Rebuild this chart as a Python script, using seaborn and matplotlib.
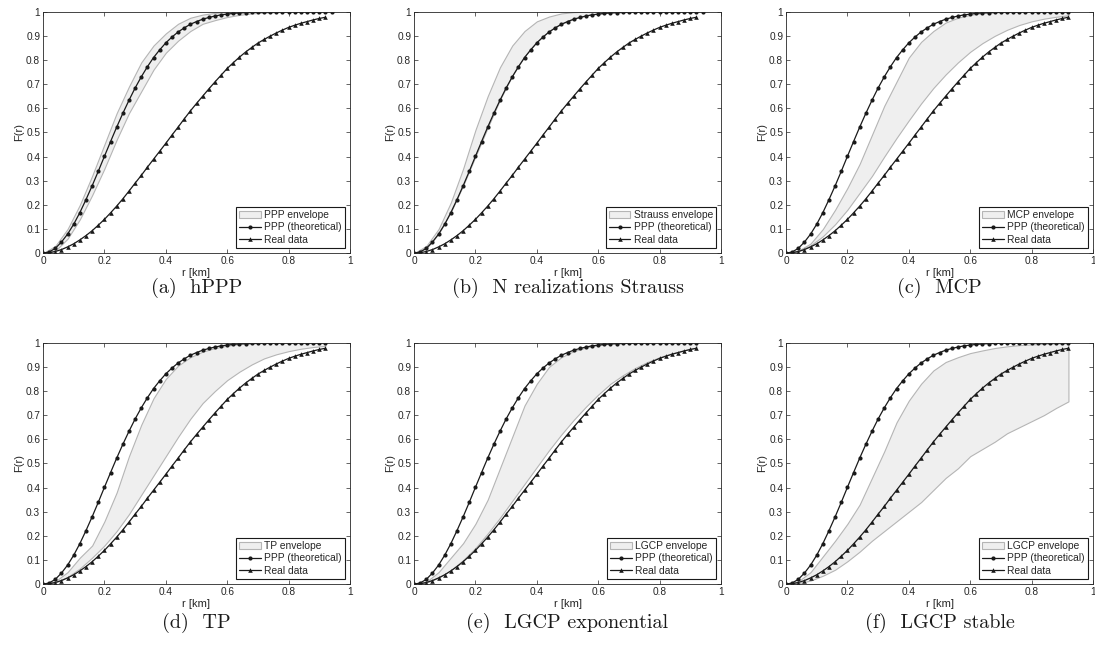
import numpy as np
import seaborn as sns
import matplotlib.pyplot as plt
from matplotlib.ticker import FuncFormatter

# distance grid (km) for the F-function curves
r_km = [0.00, 0.02, 0.04, 0.06, 0.08, 0.10, 0.12, 0.14, 0.16, 0.18,
        0.20, 0.22, 0.24, 0.26, 0.28, 0.30, 0.32, 0.34, 0.36, 0.38,
        0.40, 0.42, 0.44, 0.46, 0.48, 0.50, 0.52, 0.54, 0.56, 0.58,
        0.60, 0.62, 0.64, 0.66, 0.68, 0.70, 0.72, 0.74, 0.76, 0.78,
        0.80, 0.82, 0.84, 0.86, 0.88, 0.90, 0.92, 0.94]

ppp_theory = [0.000, 0.005, 0.020, 0.046, 0.079, 0.120, 0.168, 0.222, 0.279, 0.339,
              0.401, 0.462, 0.522, 0.579, 0.633, 0.684, 0.730, 0.772, 0.810, 0.842,
              0.871, 0.895, 0.916, 0.933, 0.948, 0.959, 0.969, 0.976, 0.982, 0.987,
              0.990, 0.993, 0.995, 0.996, 0.997, 0.998, 0.999, 0.999, 0.999, 1.000,
              1.000, 1.000, 1.000, 1.000, 1.000, 1.000, 1.000, 1.000]

real_data = [0.000, 0.002, 0.007, 0.015, 0.026, 0.039, 0.055, 0.073, 0.093, 0.116,
             0.140, 0.167, 0.195, 0.225, 0.257, 0.290, 0.322, 0.356, 0.389, 0.422,
             0.455, 0.489, 0.522, 0.556, 0.589, 0.620, 0.650, 0.680, 0.709, 0.737,
             0.765, 0.789, 0.812, 0.833, 0.852, 0.870, 0.885, 0.899, 0.912, 0.924,
             0.935, 0.944, 0.952, 0.959, 0.966, 0.972, 0.977]

# envelope grid (km)
env_r = [0.00, 0.04, 0.08, 0.12, 0.16, 0.20, 0.24, 0.28, 0.32, 0.36, 0.40, 0.44,
         0.48, 0.52, 0.56, 0.60, 0.64, 0.68, 0.72, 0.76, 0.80, 0.84, 0.88, 0.92]

hppp_hi = [0, 0.03, 0.10, 0.20, 0.32, 0.45, 0.58, 0.69, 0.79, 0.86, 0.91, 0.95,
           0.975, 0.988, 0.995, 0.999, 1, 1, 1, 1, 1, 1, 1, 1]
hppp_lo = [0, 0.01, 0.06, 0.14, 0.24, 0.35, 0.47, 0.58, 0.67, 0.76, 0.83, 0.88,
           0.92, 0.95, 0.965, 0.978, 0.987, 0.993, 0.996, 0.998, 0.999, 1, 1, 1]

strauss_hi = [0, 0.03, 0.10, 0.21, 0.35, 0.51, 0.65, 0.77, 0.86, 0.92, 0.96, 0.98,
              0.993, 0.998, 1, 1, 1, 1, 1, 1, 1, 1, 1, 1]
strauss_lo = [0, 0.02, 0.08, 0.17, 0.28, 0.40, 0.52, 0.635, 0.735, 0.815, 0.875, 0.92,
              0.95, 0.97, 0.985, 0.992, 0.996, 0.998, 0.999, 1, 1, 1, 1, 1]

mcp_hi = [0, 0.01, 0.04, 0.10, 0.18, 0.27, 0.37, 0.49, 0.61, 0.71, 0.81, 0.875,
          0.92, 0.955, 0.975, 0.987, 0.994, 0.997, 0.999, 1, 1, 1, 1, 1]
mcp_lo = [0, 0.008, 0.032, 0.07, 0.12, 0.18, 0.25, 0.32, 0.40, 0.477, 0.55, 0.62,
          0.684, 0.74, 0.79, 0.834, 0.87, 0.90, 0.925, 0.945, 0.96, 0.971, 0.979, 0.985]

tp_hi = [0, 0.012, 0.05, 0.11, 0.16, 0.26, 0.38, 0.53, 0.66, 0.77, 0.85, 0.905,
         0.94, 0.963, 0.978, 0.988, 0.994, 0.997, 0.999, 1, 1, 1, 1, 1]
tp_lo = [0, 0.007, 0.03, 0.065, 0.11, 0.16, 0.22, 0.29, 0.37, 0.45, 0.53, 0.61,
         0.685, 0.75, 0.80, 0.845, 0.88, 0.91, 0.935, 0.952, 0.965, 0.975, 0.982, 0.987]

lgcp_exp_hi = [0, 0.01, 0.05, 0.11, 0.17, 0.25, 0.35, 0.48, 0.61, 0.74, 0.83, 0.90,
               0.94, 0.965, 0.98, 0.99, 0.996, 0.998, 1, 1, 1, 1, 1, 1]
lgcp_exp_lo = [0, 0.007, 0.027, 0.058, 0.10, 0.15, 0.21, 0.275, 0.345, 0.415, 0.485, 0.555,
               0.62, 0.68, 0.735, 0.785, 0.83, 0.865, 0.895, 0.92, 0.94, 0.956, 0.968, 0.98]

lgcp_stab_hi = [0, 0.012, 0.05, 0.115, 0.18, 0.25, 0.33, 0.44, 0.55, 0.67, 0.76, 0.83,
                0.885, 0.92, 0.94, 0.957, 0.968, 0.978, 0.985, 0.99, 0.993, 0.995, 0.997, 0.998]
lgcp_stab_lo = [0, 0.004, 0.015, 0.035, 0.06, 0.095, 0.135, 0.18, 0.22, 0.26, 0.30, 0.34,
                0.39, 0.44, 0.48, 0.53, 0.56, 0.59, 0.625, 0.65, 0.675, 0.70, 0.73, 0.757]

env_labels = ['PPP envelope', 'Strauss envelope', 'MCP envelope',
              'TP envelope', 'LGCP envelope', 'LGCP envelope']
captions = ['(a)  hPPP', '(b)  N realizations Strauss', '(c)  MCP',
            '(d)  TP', '(e)  LGCP exponential', '(f)  LGCP stable']
env_hi = [hppp_hi, strauss_hi, mcp_hi, tp_hi, lgcp_exp_hi, lgcp_stab_hi]
env_lo = [hppp_lo, strauss_lo, mcp_lo, tp_lo, lgcp_exp_lo, lgcp_stab_lo]
# number of theoretical points drawn in each panel
ppp_count = [48, 48, 47, 47, 47, 47]

sns.set_theme(style='ticks')
plt.rcParams['font.family'] = ['Liberation Sans', 'DejaVu Sans']

W, H = 1095, 657
fig = plt.figure(figsize=(W / 100, H / 100), dpi=100)
fig.patch.set_facecolor('white')

lefts = [43, 414, 786]
tops = [11.7, 342.7]
ax_w, ax_h = 307, 241.5
cap_y = [288, 623]
dark = '#262626'

for i in range(6):
    row, col = divmod(i, 3)
    l, t = lefts[col], tops[row]
    ax = fig.add_axes([l / W, 1 - (t + ax_h) / H, ax_w / W, ax_h / H])
    ax.set_facecolor('white')

    ax.fill_between(env_r, env_lo[i], env_hi[i], facecolor='#efefef',
                    edgecolor='#b5b5b5', linewidth=0.8, label=env_labels[i])
    n = ppp_count[i]
    sns.lineplot(x=r_km[:n], y=ppp_theory[:n], ax=ax, color='k', linewidth=0.9,
                 marker='o', markersize=3, mec='k', mew=0, label='PPP (theoretical)')
    sns.lineplot(x=r_km[:len(real_data)], y=real_data, ax=ax, color='k', linewidth=0.9,
                 marker='^', markersize=3.3, mec='k', mew=0, label='Real data')

    ax.set_xlim(0, 1)
    ax.set_ylim(0, 1)
    ax.set_xticks(np.linspace(0, 1, 6))
    ax.set_yticks(np.linspace(0, 1, 11))
    ax.xaxis.set_major_formatter(FuncFormatter(lambda v, p: f'{v:g}'))
    ax.yaxis.set_major_formatter(FuncFormatter(lambda v, p: f'{v:g}'))
    ax.tick_params(direction='in', top=True, right=True, length=3, width=0.5,
                   labelsize=7.3, colors=dark, pad=2)
    for s in ax.spines.values():
        s.set_visible(True)
        s.set_linewidth(0.6)
        s.set_color(dark)
    ax.set_xlabel('r [km]', fontsize=8, color=dark, labelpad=1.5)
    ax.set_ylabel('F(r)', fontsize=8, color=dark, labelpad=1.5)

    leg = ax.legend(loc='lower right', fontsize=7.4, frameon=True, fancybox=False,
                    edgecolor='k', framealpha=1, handlelength=2.1, handletextpad=0.3,
                    labelspacing=0.25, borderpad=0.3, borderaxespad=0.5)
    leg.get_frame().set_linewidth(0.8)

    fig.text((l + ax_w / 2) / W, 1 - cap_y[row] / H, captions[i], ha='center',
             va='center', fontsize=14.5, family='cmr10', color='k')

fig.savefig('out.png', dpi=100)
